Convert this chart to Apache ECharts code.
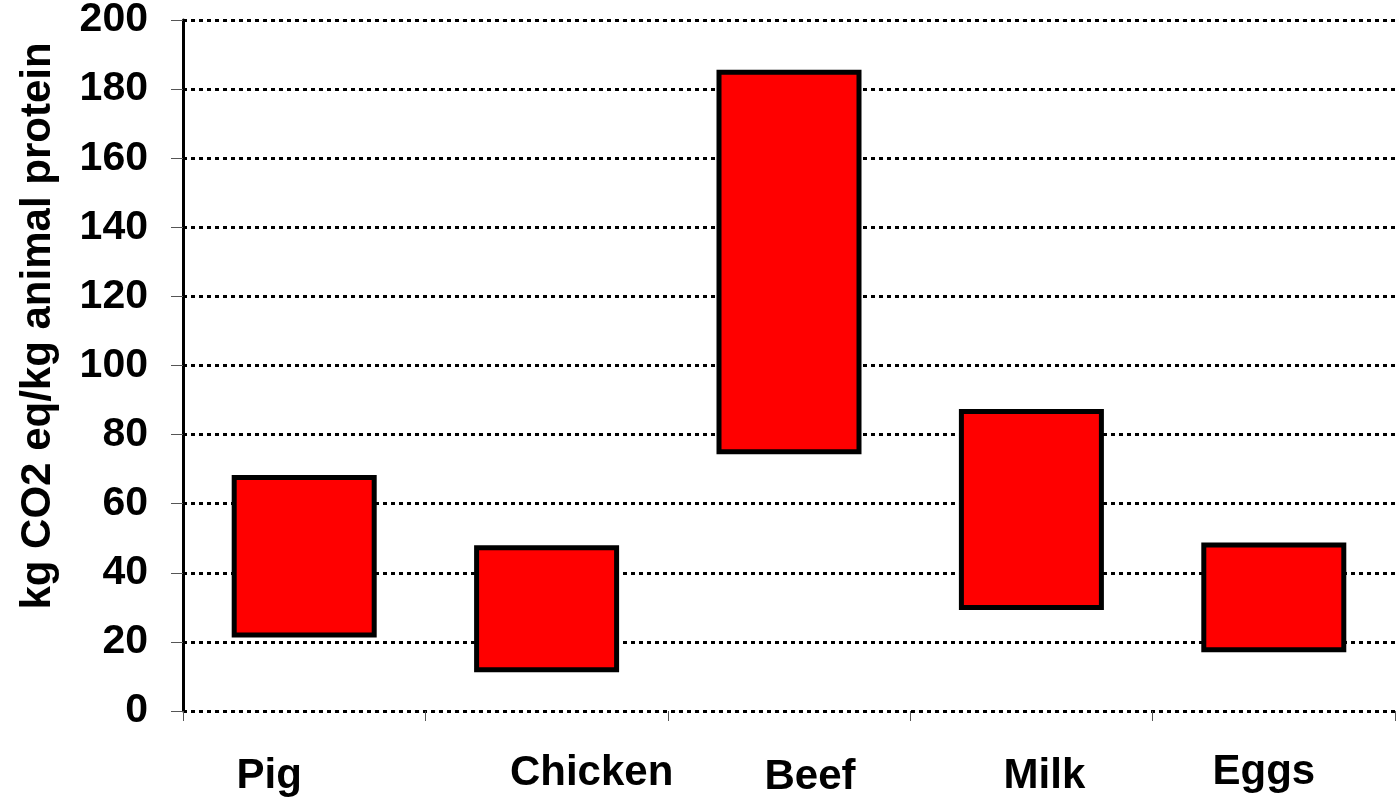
<!DOCTYPE html>
<html>
<head>
<meta charset="utf-8">
<script src="https://cdn.jsdelivr.net/npm/echarts@6/dist/echarts.min.js"></script>
<style>
  html, body { margin: 0; padding: 0; background: #fff; }
  #chart { width: 1396px; height: 797px; }
</style>
</head>
<body>
<div id="chart"></div>
<script>
// Emission ranges per product (kg CO2 eq / kg animal protein)
const categories = ['Pig', 'Chicken', 'Beef', 'Milk', 'Eggs'];
const lowValues  = [21.3, 11.2, 74.3, 29.2, 17];
const highValues = [68.3, 48, 185.6, 87.4, 48.8];
const yTicks = { min: 0, max: 200, interval: 20 };

// Caption nudges: [horizontal, downward] in px
const labelShift = [[-70, 4], [90, 1], [42, 5], [26, 4], [-20, 0]];

const chart = echarts.init(document.getElementById('chart'));
const font = '"Liberation Sans", Arial, sans-serif';

function captionPadding(s) {
  const dx = s[0], dy = s[1];
  return [dy, dx < 0 ? -dx : 0, 0, dx > 0 ? dx : 0];
}

chart.setOption({
  animation: false,
  backgroundColor: '#ffffff',
  grid: {
    left: 183, top: 20, width: 1212, bottom: 86,
    containLabel: false,
    outerBoundsMode: 'none'
  },
  xAxis: {
    type: 'category',
    data: categories.map((c, i) => ({
      value: c,
      textStyle: { padding: captionPadding(labelShift[i]) }
    })),
    axisLine: { show: false },
    axisTick: { show: true, length: 10, lineStyle: { color: '#555', width: 1 } },
    axisLabel: {
      margin: 40,
      color: '#000',
      fontFamily: font,
      fontWeight: 'bold',
      fontSize: 42
    },
    splitLine: { show: false }
  },
  yAxis: {
    type: 'value',
    min: yTicks.min,
    max: yTicks.max,
    interval: yTicks.interval,
    name: 'kg CO2 eq/kg animal protein',
    nameLocation: 'middle',
    nameGap: 124,
    nameRotate: 90,
    nameTextStyle: {
      color: '#000',
      fontFamily: font,
      fontWeight: 'bold',
      fontSize: 42,
      padding: [0, 0, 0, 79]
    },
    axisLine: { show: true, lineStyle: { color: '#000', width: 3 } },
    axisTick: { show: true, length: 12, lineStyle: { color: '#555', width: 1 } },
    axisLabel: {
      margin: 35,
      color: '#000',
      fontFamily: font,
      fontWeight: 'bold',
      fontSize: 41
    },
    splitLine: {
      show: true,
      lineStyle: { color: '#000', width: 3, type: [4, 4] }
    }
  },
  series: [
    {
      name: 'base',
      type: 'bar',
      stack: 'range',
      barWidth: 145,
      silent: true,
      itemStyle: { color: 'transparent', borderWidth: 0 },
      data: lowValues
    },
    {
      name: 'range',
      type: 'bar',
      stack: 'range',
      barWidth: 145,
      itemStyle: { color: '#ff0000', borderColor: '#000', borderWidth: 5 },
      data: highValues.map((h, i) => +(h - lowValues[i]).toFixed(2))
    }
  ]
});
</script>
</body>
</html>
